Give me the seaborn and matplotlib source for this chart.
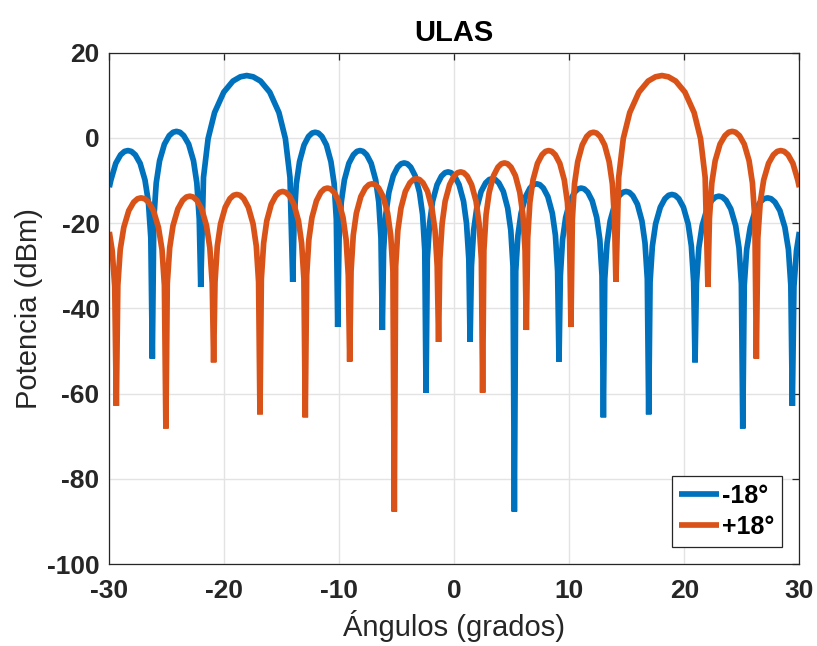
import matplotlib
matplotlib.use("Agg")
import matplotlib.pyplot as plt
import seaborn as sns

ang_m18 = [-30.0, -29.86, -29.44, -29.02, -28.68, -28.38, -28.08, -27.74, -27.32, -26.9, -26.6, -26.39, -26.26,
           -26.13, -25.92, -25.63, -25.21, -24.79, -24.45, -24.16, -23.86, -23.53, -23.1, -22.68, -22.39, -22.18, -22.05,
           -21.81, -21.41, -20.85, -20.05, -19.25, -18.61, -18.05, -17.49, -16.85, -16.05, -15.25, -14.69, -14.29, -14.05,
           -13.93, -13.74, -13.46, -13.07, -12.68, -12.37, -12.1, -11.82, -11.51, -11.12, -10.73, -10.45, -10.26, -10.14,
           -10.02, -9.83, -9.56, -9.17, -8.78, -8.47, -8.2, -7.93, -7.62, -7.23, -6.84, -6.57, -6.38, -6.26,
           -6.15, -5.96, -5.69, -5.31, -4.93, -4.63, -4.36, -4.09, -3.79, -3.41, -3.03, -2.76, -2.57, -2.46,
           -2.35, -2.15, -1.89, -1.5, -1.12, -0.81, -0.55, -0.28, 0.03, 0.41, 0.8, 1.06, 1.26, 1.37,
           1.49, 1.68, 1.95, 2.33, 2.72, 3.03, 3.3, 3.56, 3.87, 4.26, 4.64, 4.91, 5.1, 5.22,
           5.34, 5.53, 5.8, 6.19, 6.58, 6.89, 7.16, 7.43, 7.74, 8.13, 8.52, 8.79, 8.98, 9.1,
           9.22, 9.41, 9.68, 10.07, 10.45, 10.76, 11.03, 11.3, 11.61, 11.99, 12.38, 12.65, 12.84, 12.96,
           13.08, 13.28, 13.55, 13.95, 14.34, 14.65, 14.93, 15.21, 15.52, 15.92, 16.31, 16.58, 16.78, 16.9,
           17.02, 17.22, 17.5, 17.91, 18.31, 18.63, 18.92, 19.2, 19.52, 19.92, 20.33, 20.61, 20.81, 20.93,
           21.05, 21.26, 21.55, 21.97, 22.38, 22.71, 23.0, 23.3, 23.63, 24.04, 24.46, 24.75, 24.96, 25.08,
           25.21, 25.42, 25.73, 26.16, 26.59, 26.93, 27.24, 27.54, 27.88, 28.31, 28.74, 29.05, 29.26, 29.39,
           29.53, 29.75, 30.0]
pot_m18 = [-11.6, -9.9, -6.0, -4.0, -3.2, -3.0, -3.2, -4.0, -6.0, -9.9, -15.1, -23.5, -51.8,
           -19.0, -10.6, -5.4, -1.5, 0.5, 1.3, 1.5, 1.3, 0.5, -1.5, -5.4, -10.6, -19.0, -35.0,
           -9.3, -0.2, 5.9, 10.7, 13.3, 14.3, 14.6, 14.3, 13.3, 10.7, 5.9, -0.2, -9.3, -33.8,
           -19.2, -10.8, -5.6, -1.7, 0.3, 1.1, 1.3, 1.1, 0.3, -1.7, -5.6, -10.8, -19.2, -44.4,
           -23.5, -15.1, -9.9, -6.0, -4.0, -3.2, -3.0, -3.2, -4.0, -6.0, -9.9, -15.1, -23.5, -45.1,
           -26.4, -18.0, -12.8, -8.9, -6.9, -6.1, -5.9, -6.1, -6.9, -8.9, -12.8, -18.0, -26.4, -59.8,
           -28.5, -20.1, -14.9, -11.0, -9.0, -8.2, -8.0, -8.2, -9.0, -11.0, -14.9, -20.1, -28.5, -47.9,
           -30.1, -21.7, -16.5, -12.6, -10.6, -9.8, -9.6, -9.8, -10.6, -12.6, -16.5, -21.7, -30.1, -87.7,
           -31.3, -22.9, -17.7, -13.8, -11.8, -11.0, -10.8, -11.0, -11.8, -13.8, -17.7, -22.9, -31.3, -52.5,
           -32.3, -23.9, -18.7, -14.8, -12.8, -12.0, -11.8, -12.0, -12.8, -14.8, -18.7, -23.9, -32.3, -65.6,
           -33.1, -24.7, -19.5, -15.6, -13.6, -12.8, -12.6, -12.8, -13.6, -15.6, -19.5, -24.7, -33.1, -64.9,
           -33.8, -25.4, -20.2, -16.3, -14.3, -13.5, -13.3, -13.5, -14.3, -16.3, -20.2, -25.4, -33.8, -52.7,
           -34.2, -25.8, -20.6, -16.7, -14.7, -13.9, -13.7, -13.9, -14.7, -16.7, -20.6, -25.8, -34.2, -68.2,
           -34.6, -26.2, -21.0, -17.1, -15.1, -14.3, -14.1, -14.3, -15.1, -17.1, -21.0, -26.2, -34.6, -62.9,
           -34.9, -26.5, -22.1]

ang_p18 = [-30.0, -29.75, -29.53,
           -29.39, -29.26, -29.05, -28.74, -28.31, -27.88, -27.54, -27.24, -26.93, -26.59, -26.16, -25.73, -25.42, -25.21,
           -25.08, -24.96, -24.75, -24.46, -24.04, -23.63, -23.3, -23.0, -22.71, -22.38, -21.97, -21.55, -21.26, -21.05,
           -20.93, -20.81, -20.61, -20.33, -19.92, -19.52, -19.2, -18.92, -18.63, -18.31, -17.91, -17.5, -17.22, -17.02,
           -16.9, -16.78, -16.58, -16.31, -15.92, -15.52, -15.21, -14.93, -14.65, -14.34, -13.95, -13.55, -13.28, -13.08,
           -12.96, -12.84, -12.65, -12.38, -11.99, -11.61, -11.3, -11.03, -10.76, -10.45, -10.07, -9.68, -9.41, -9.22,
           -9.1, -8.98, -8.79, -8.52, -8.13, -7.74, -7.43, -7.16, -6.89, -6.58, -6.19, -5.8, -5.53, -5.34,
           -5.22, -5.1, -4.91, -4.64, -4.26, -3.87, -3.56, -3.3, -3.03, -2.72, -2.33, -1.95, -1.68, -1.49,
           -1.37, -1.26, -1.06, -0.8, -0.41, -0.03, 0.28, 0.55, 0.81, 1.12, 1.5, 1.89, 2.15, 2.35,
           2.46, 2.57, 2.76, 3.03, 3.41, 3.79, 4.09, 4.36, 4.63, 4.93, 5.31, 5.69, 5.96, 6.15,
           6.26, 6.38, 6.57, 6.84, 7.23, 7.62, 7.93, 8.2, 8.47, 8.78, 9.17, 9.56, 9.83, 10.02,
           10.14, 10.26, 10.45, 10.73, 11.12, 11.51, 11.82, 12.1, 12.37, 12.68, 13.07, 13.46, 13.74, 13.93,
           14.05, 14.29, 14.69, 15.25, 16.05, 16.85, 17.49, 18.05, 18.61, 19.25, 20.05, 20.85, 21.41, 21.81,
           22.05, 22.18, 22.39, 22.68, 23.1, 23.53, 23.86, 24.16, 24.45, 24.79, 25.21, 25.63, 25.92, 26.13,
           26.26, 26.39, 26.6, 26.9, 27.32, 27.74, 28.08, 28.38, 28.68, 29.02, 29.44, 29.86, 30.0]
pot_p18 = [-22.1, -26.5, -34.9,
           -62.9, -34.6, -26.2, -21.0, -17.1, -15.1, -14.3, -14.1, -14.3, -15.1, -17.1, -21.0, -26.2, -34.6,
           -68.2, -34.2, -25.8, -20.6, -16.7, -14.7, -13.9, -13.7, -13.9, -14.7, -16.7, -20.6, -25.8, -34.2,
           -52.7, -33.8, -25.4, -20.2, -16.3, -14.3, -13.5, -13.3, -13.5, -14.3, -16.3, -20.2, -25.4, -33.8,
           -64.9, -33.1, -24.7, -19.5, -15.6, -13.6, -12.8, -12.6, -12.8, -13.6, -15.6, -19.5, -24.7, -33.1,
           -65.6, -32.3, -23.9, -18.7, -14.8, -12.8, -12.0, -11.8, -12.0, -12.8, -14.8, -18.7, -23.9, -32.3,
           -52.5, -31.3, -22.9, -17.7, -13.8, -11.8, -11.0, -10.8, -11.0, -11.8, -13.8, -17.7, -22.9, -31.3,
           -87.7, -30.1, -21.7, -16.5, -12.6, -10.6, -9.8, -9.6, -9.8, -10.6, -12.6, -16.5, -21.7, -30.1,
           -47.9, -28.5, -20.1, -14.9, -11.0, -9.0, -8.2, -8.0, -8.2, -9.0, -11.0, -14.9, -20.1, -28.5,
           -59.8, -26.4, -18.0, -12.8, -8.9, -6.9, -6.1, -5.9, -6.1, -6.9, -8.9, -12.8, -18.0, -26.4,
           -45.1, -23.5, -15.1, -9.9, -6.0, -4.0, -3.2, -3.0, -3.2, -4.0, -6.0, -9.9, -15.1, -23.5,
           -44.4, -19.2, -10.8, -5.6, -1.7, 0.3, 1.1, 1.3, 1.1, 0.3, -1.7, -5.6, -10.8, -19.2,
           -33.8, -9.3, -0.2, 5.9, 10.7, 13.3, 14.3, 14.6, 14.3, 13.3, 10.7, 5.9, -0.2, -9.3,
           -35.0, -19.0, -10.6, -5.4, -1.5, 0.5, 1.3, 1.5, 1.3, 0.5, -1.5, -5.4, -10.6, -19.0,
           -51.8, -23.5, -15.1, -9.9, -6.0, -4.0, -3.2, -3.0, -3.2, -4.0, -6.0, -9.9, -11.6]

etiquetas = ['-18°', '+18°']
colores = ['#0072BD', '#D95319']
xticks = [-30, -20, -10, 0, 10, 20, 30]
yticks = [-100, -80, -60, -40, -20, 0, 20]

sns.set_theme(style="whitegrid")
plt.rcParams['font.family'] = ['Liberation Sans', 'DejaVu Sans']
plt.rcParams['axes.unicode_minus'] = False

fig = plt.figure(figsize=(8.17, 6.46), dpi=100)
ax = fig.add_axes([0.1338, 0.1269, 0.8446, 0.7918])
ax.set_facecolor('white')

for ang, pot, lab, col in zip([ang_m18, ang_p18], [pot_m18, pot_p18], etiquetas, colores):
    sns.lineplot(x=ang, y=pot, ax=ax, color=col, linewidth=4.1, label=lab,
                 estimator=None, sort=False,
                 solid_capstyle='butt', solid_joinstyle='bevel')

ax.set_xlim(-30, 30)
ax.set_ylim(-100, 20)
ax.set_xticks(xticks)
ax.set_yticks(yticks)
ax.grid(True, color='#e3e3e3', linewidth=1)
for s in ax.spines.values():
    s.set_color('#262626')
    s.set_linewidth(0.9)
ax.tick_params(direction='in', length=5, width=0.9, color='#262626',
               top=True, right=True, labelsize=19, labelcolor='#262626', pad=7)
ax.tick_params(axis='x', pad=11)
for t in ax.get_xticklabels() + ax.get_yticklabels():
    t.set_fontweight('bold')

ax.set_title('ULAS', fontsize=21, fontweight='bold', color='black', pad=8)
ax.set_xlabel('Ángulos (grados)', fontsize=21, color='#262626', labelpad=5)
ax.set_ylabel('Potencia (dBm)', fontsize=21, color='#262626', labelpad=3)

leg = ax.legend(loc='lower right', prop={'weight': 'bold', 'size': 18},
                frameon=True, fancybox=False, framealpha=1, edgecolor='#262626',
                handlelength=1.6, handletextpad=0.1, labelspacing=0.3,
                borderpad=0.3, borderaxespad=0.7)
leg.get_frame().set_linewidth(0.9)
for t in leg.get_texts():
    t.set_color('black')

fig.savefig('out.png', dpi=100)
